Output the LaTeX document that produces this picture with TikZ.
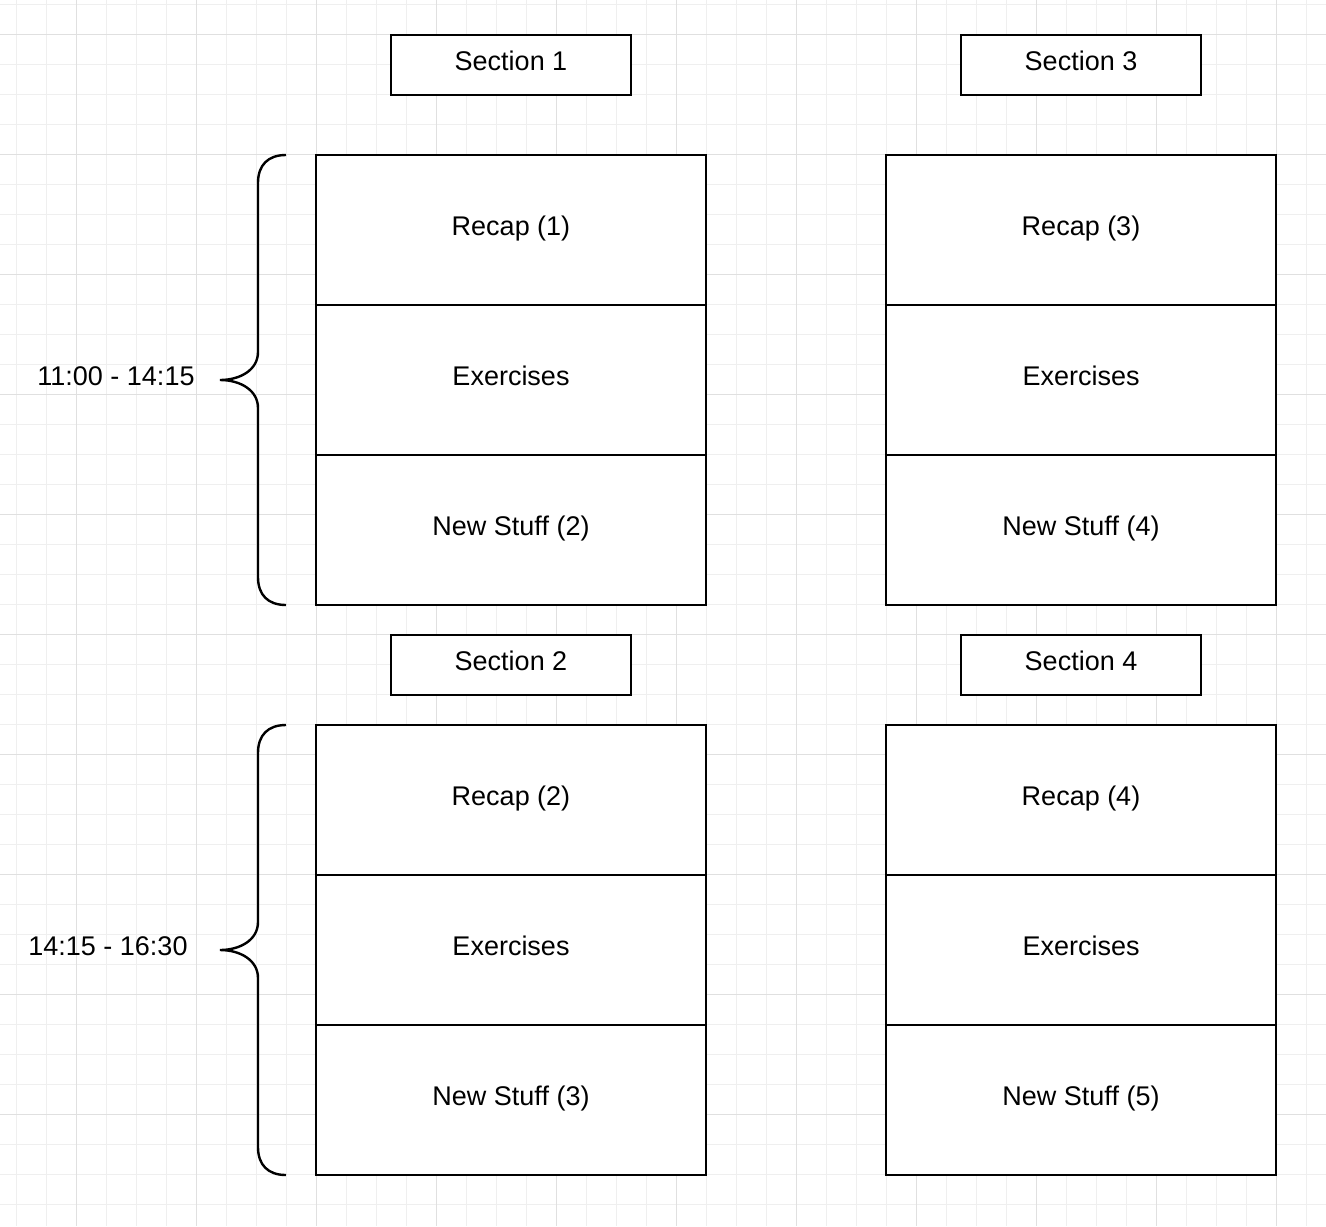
\documentclass[tikz,border=0pt]{standalone}
\usepackage{fontspec}
\setmainfont{Liberation Sans}
\definecolor{gridminor}{HTML}{EFEFEF}
\definecolor{gridmajor}{HTML}{E0E0E0}
\begin{document}
\begin{tikzpicture}[x=0.5pt,y=-0.5pt,
  every node/.style={font=\fontsize{13.5pt}{16.2pt}\selectfont},
  cell/.style={draw=black, line width=1.2pt, fill=white, minimum width=195pt,
    minimum height=75pt, inner sep=0pt, text height=9.5pt, text depth=4.5pt},
  secbox/.style={cell, minimum width=120pt, minimum height=30pt},
  timelabel/.style={anchor=base, inner sep=0pt},
  bracepath/.style={draw=black, line width=1.2pt},
  minorline/.style={draw=gridminor, line width=0.5pt},
  majorline/.style={draw=gridmajor, line width=0.5pt}]

% canvas and background grid
\fill[white] (0,0) rectangle (1326,1226);
\useasboundingbox (0,0) rectangle (1326,1226);
\foreach \x in {16,46,...,1326} \draw[minorline] (\x,0) -- (\x,1226);
\foreach \y in {4,34,...,1226} \draw[minorline] (0,\y) -- (1326,\y);
\foreach \x in {76,196,...,1326} \draw[majorline] (\x,0) -- (\x,1226);
\foreach \y in {34,154,...,1226} \draw[majorline] (0,\y) -- (1326,\y);

% section headers
\node[secbox] (sec1) at (511,65)  {Section 1};
\node[secbox] (sec3) at (1081,65) {Section 3};
\node[secbox] (sec2) at (511,665) {Section 2};
\node[secbox] (sec4) at (1081,665) {Section 4};

% section 1
\node[cell] (r1) at (511,230) {Recap (1)};
\node[cell] (e1) at (511,380) {Exercises};
\node[cell] (n1) at (511,530) {New Stuff (2)};
% section 3
\node[cell] (r3) at (1081,230) {Recap (3)};
\node[cell] (e3) at (1081,380) {Exercises};
\node[cell] (n3) at (1081,530) {New Stuff (4)};
% section 2
\node[cell] (r2) at (511,800) {Recap (2)};
\node[cell] (e2) at (511,950) {Exercises};
\node[cell] (n2) at (511,1100) {New Stuff (3)};
% section 4
\node[cell] (r4) at (1081,800) {Recap (4)};
\node[cell] (e4) at (1081,950) {Exercises};
\node[cell] (n4) at (1081,1100) {New Stuff (5)};

% curly braces with time ranges
\foreach \t in {155,725} {
  \draw[bracepath] (286,\t)
    .. controls (268,\t) and (258,\t+10) .. (258,\t+28)
    -- (258,\t+197)
    .. controls (258,\t+215) and (240,\t+225) .. (220,\t+225)
    .. controls (240,\t+225) and (258,\t+235) .. (258,\t+253)
    -- (258,\t+422)
    .. controls (258,\t+440) and (268,\t+450) .. (286,\t+450);
}
\node[timelabel] (time1) at (116,385) {11:00 - 14:15};
\node[timelabel] (time2) at (108,955) {14:15 - 16:30};
\end{tikzpicture}
\end{document}
